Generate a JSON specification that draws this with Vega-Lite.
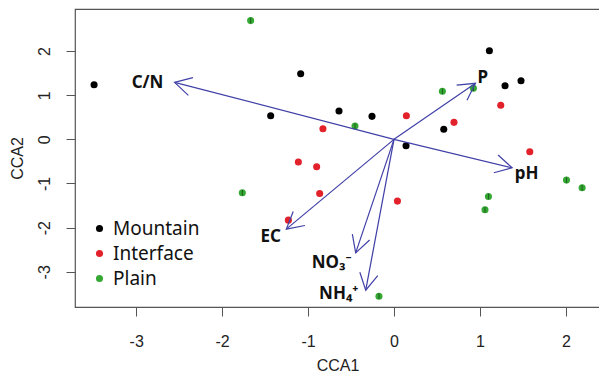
{
  "$schema": "https://vega.github.io/schema/vega-lite/v6.json",
  "autosize": "none",
  "padding": {"left": 75, "top": 9, "right": 0, "bottom": 66},
  "width": 525,
  "height": 298,
  "background": "white",
  "config": {
    "view": {"stroke": "#555", "strokeWidth": 1.2},
    "axis": {
      "grid": false,
      "domain": false,
      "tickColor": "#555",
      "tickSize": 9,
      "labelFont": "Liberation Sans",
      "labelFontSize": 16,
      "labelColor": "#222",
      "titleFont": "Liberation Sans",
      "titleFontSize": 16,
      "titleFontWeight": "normal",
      "titleColor": "#222"
    }
  },
  "datasets": {
    "pts": [
      {"x": -3.49, "y": 1.238, "g": "Mountain"},
      {"x": -1.086, "y": 1.488, "g": "Mountain"},
      {"x": -1.435, "y": 0.535, "g": "Mountain"},
      {"x": -0.64, "y": 0.642, "g": "Mountain"},
      {"x": -0.256, "y": 0.521, "g": "Mountain"},
      {"x": 0.579, "y": 0.227, "g": "Mountain"},
      {"x": 0.14, "y": -0.145, "g": "Mountain"},
      {"x": 1.11, "y": 2.009, "g": "Mountain"},
      {"x": 1.292, "y": 1.215, "g": "Mountain"},
      {"x": 1.478, "y": 1.329, "g": "Mountain"},
      {"x": -0.827, "y": 0.24, "g": "Interface"},
      {"x": -1.113, "y": -0.515, "g": "Interface"},
      {"x": -0.9, "y": -0.621, "g": "Interface"},
      {"x": -0.865, "y": -1.225, "g": "Interface"},
      {"x": -1.229, "y": -1.83, "g": "Interface"},
      {"x": 0.144, "y": 0.535, "g": "Interface"},
      {"x": 0.698, "y": 0.385, "g": "Interface"},
      {"x": 1.242, "y": 0.771, "g": "Interface"},
      {"x": 1.58, "y": -0.281, "g": "Interface"},
      {"x": 0.04, "y": -1.399, "g": "Interface"},
      {"x": -1.668, "y": 2.69, "g": "Plain"},
      {"x": -0.454, "y": 0.302, "g": "Plain"},
      {"x": -1.765, "y": -1.211, "g": "Plain"},
      {"x": 0.563, "y": 1.088, "g": "Plain"},
      {"x": 0.924, "y": 1.156, "g": "Plain"},
      {"x": 2.007, "y": -0.923, "g": "Plain"},
      {"x": 2.189, "y": -1.097, "g": "Plain"},
      {"x": 1.099, "y": -1.293, "g": "Plain"},
      {"x": 1.059, "y": -1.596, "g": "Plain"},
      {"x": -0.175, "y": -3.553, "g": "Plain"}
    ],
    "arrows": [
      {"var": "C/N", "x0": 0, "y0": 0, "x": -2.553, "y": 1.292, "lx": -2.868, "ly": 1.282, "label": "C/N"},
      {"var": "P", "x0": 0, "y0": 0, "x": 0.948, "y": 1.27, "lx": 1.032, "ly": 1.396, "label": "P"},
      {"var": "pH", "x0": 0, "y0": 0, "x": 1.374, "y": -0.644, "lx": 1.544, "ly": -0.793, "label": "pH"},
      {"var": "EC", "x0": 0, "y0": 0, "x": -1.253, "y": -2.034, "lx": -1.435, "ly": -2.22, "label": "EC"},
      {"var": "NO3", "x0": 0, "y0": 0, "x": -0.446, "y": -2.571, "lx": -0.725, "ly": -2.809, "label": "NO₃⁻"},
      {"var": "NH4", "x0": 0, "y0": 0, "x": -0.329, "y": -3.417, "lx": -0.643, "ly": -3.505, "label": "NH₄⁺"}
    ]
  },
  "layer": [
    {
      "data": {"name": "pts"},
      "mark": {"type": "point", "shape": "circle", "filled": true, "opacity": 1, "size": 50},
      "encoding": {
        "x": {"field": "x", "type": "quantitative", "scale": {"domain": [-3.712, 2.397], "nice": false, "zero": false},
              "axis": {"title": "CCA1", "values": [-3, -2, -1, 0, 1, 2], "format": "d", "labelExpr": "replace(datum.label, '−', '-')", "labelPadding": 17, "titlePadding": 8}},
        "y": {"field": "y", "type": "quantitative", "scale": {"domain": [-3.798, 2.953], "nice": false, "zero": false},
              "axis": {"title": "CCA2", "values": [-3, -2, -1, 0, 1, 2], "format": "d", "labelExpr": "replace(datum.label, '−', '-')", "labelAngle": -90, "labelAlign": "center", "labelBaseline": "bottom", "labelPadding": 14, "titlePadding": 11}},
        "color": {"field": "g", "type": "nominal", "title": null,
          "scale": {"domain": ["Mountain", "Interface", "Plain"], "range": ["#000000", "#e3212b", "#35a834"]},
          "legend": {"orient": "none", "legendX": 15, "legendY": 210, "padding": 0, "labelFont": "Noto Sans", "labelFontSize": 19, "labelColor": "#111", "symbolSize": 50, "symbolType": "circle", "symbolStrokeWidth": 0, "labelOffset": 4, "rowPadding": 5, "symbolOpacity": 1}}
      }
    },
    {
      "data": {"name": "pts"},
      "transform": [{"filter": "datum.g === 'Plain'"}],
      "mark": {"type": "point", "shape": "M0,-0.8L0,0.8", "filled": false, "stroke": "#1d5a1d", "strokeWidth": 1, "size": 50, "opacity": 1},
      "encoding": {"x": {"field": "x", "type": "quantitative"}, "y": {"field": "y", "type": "quantitative"}}
    },
    {
      "data": {"name": "arrows"},
      "mark": {"type": "rule", "color": "#4040a8", "strokeWidth": 1.2},
      "encoding": {
        "x": {"field": "x0", "type": "quantitative"},
        "y": {"field": "y0", "type": "quantitative"},
        "x2": {"field": "x"},
        "y2": {"field": "y"}
      }
    },
    {
      "data": {"name": "arrows"},
      "transform": [{"calculate": "atan2(-datum.y * 44.14, datum.x * 85.94) * 180 / PI", "as": "ang"}],
      "mark": {"type": "point", "shape": "M-1,-0.55L0,0L-1,0.55", "filled": false, "stroke": "#4040a8", "strokeWidth": 1.2, "size": 1100, "opacity": 1},
      "encoding": {
        "x": {"field": "x", "type": "quantitative"},
        "y": {"field": "y", "type": "quantitative"},
        "angle": {"field": "ang", "type": "quantitative", "scale": null}
      }
    },
    {
      "data": {"name": "arrows"},
      "mark": {"type": "text", "font": "Noto Sans", "fontWeight": "bold", "fontSize": 17, "color": "#111", "align": "center", "baseline": "middle"},
      "encoding": {
        "x": {"field": "lx", "type": "quantitative"},
        "y": {"field": "ly", "type": "quantitative"},
        "text": {"field": "label"}
      }
    }
  ]
}
